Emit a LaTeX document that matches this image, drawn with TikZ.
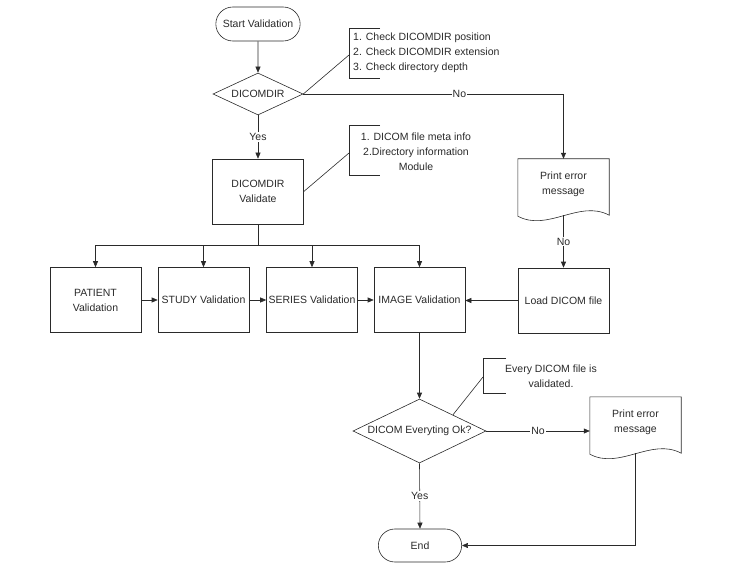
\documentclass[tikz,border=0pt]{standalone}
\usepackage{fontspec}
\setmainfont{Liberation Sans}
\usetikzlibrary{arrows.meta, positioning, shapes.geometric, shapes.misc}
\definecolor{Ink}{HTML}{2A2A2A}

\begin{document}
\begin{tikzpicture}[x=1pt, y=-1pt, >={Triangle[length=6pt, width=5pt]},
    font=\fontsize{10.5}{15}\selectfont, text=Ink,
    line/.style={draw=Ink, line width=0.6pt},
    box/.style={line, rectangle, minimum width=91pt, minimum height=65pt, inner sep=1pt, align=center},
    term/.style={line, rounded rectangle, minimum width=91pt, minimum height=34pt, align=center},
    decision/.style={line, diamond, inner sep=0pt, align=center},
    doc/.style={rectangle, minimum width=91pt, minimum height=50pt, inner sep=1pt, align=center},
    lbl/.style={fill=white, inner sep=1pt}]
  \useasboundingbox (0,0) rectangle (736,572);

  \node[term] (start) at (258,24) {Start Validation};
  \node[decision, minimum width=90pt, minimum height=42pt, aspect=2.14] (dir) at (258,94) {DICOMDIR};
  \node[box] (dirval) at (258,191.5) {DICOMDIR\\Validate};
  \node[box] (patient) at (95.5,300) {PATIENT\\Validation};
  \node[box] (study) at (203.5,300) {STUDY Validation};
  \node[box] (series) at (312,300) {SERIES Validation};
  \node[box] (image) at (419.5,300) {IMAGE Validation};
  \node[doc] (err1) at (563.5,184) {Print error\\message};
  \node[box] (load) at (563.5,300.5) {Load DICOM file};
  \node[decision, minimum width=133pt, minimum height=64pt, aspect=2.08] (ok) at (419.5,431) {DICOM Everyting Ok?};
  \node[doc] (err2) at (635.5,422) {Print error\\message};
  \node[term, minimum width=90pt, minimum height=33pt] (end) at (420,545.5) {End};

  % document outlines
  \draw[line] ([yshift=-7pt]err1.south west) -- (err1.north west) -- (err1.north east)
    -- ([yshift=-6pt]err1.south east) .. controls +(-30,-16) and +(30,16) .. ([yshift=-7pt]err1.south west);
  \draw[line] ([yshift=-7pt]err2.south west) -- (err2.north west) -- (err2.north east)
    -- ([yshift=-6pt]err2.south east) .. controls +(-30,-16) and +(30,16) .. ([yshift=-7pt]err2.south west);

  % annotations
  \draw[line] (380,28) -- (349,28) -- (349,78) -- (380,78);
  \coordinate (note1) at (349,55);
  \node[anchor=west, align=left, inner sep=0pt] (txt1) at (353,53)
    {1. Check DICOMDIR position\\2. Check DICOMDIR extension\\3. Check directory depth};
  \draw[line] (380,125) -- (349,125) -- (349,175) -- (380,175);
  \coordinate (note2) at (349,153);
  \node[align=center, inner sep=0pt] (txt2) at (416,151.5)
    {1. DICOM file meta info\\2.Directory information\\Module};
  \draw[line] (506,358) -- (483,358) -- (483,393) -- (506,393);
  \coordinate (note3) at (483,377);
  \node[align=center, inner sep=0pt] (txt3) at (551,376.5) {Every DICOM file is\\validated.};
  \draw[line] (dir.east) -- (note1);
  \draw[line] (dirval.east) -- (note2);
  \draw[line] (ok.north east) -- (note3);

  % flow
  \draw[line, ->] (start) -- (dir);
  \draw[line, ->] (dir.south) -- node[lbl] {Yes} (dirval.north);
  \draw[line, ->] (dir.east) -| node[lbl, pos=0.3] {No} (err1.north);
  \coordinate (bus) at (258,245);
  \draw[line] (dirval.south) -- (bus);
  \foreach \n in {patient, study, series, image}
    \draw[line, ->] (bus) -| (\n.north);
  \draw[line, ->] (patient) -- (study);
  \draw[line, ->] (study) -- (series);
  \draw[line, ->] (series) -- (image);
  \draw[line, ->] ([yshift=-6pt]err1.south) -- node[lbl, pos=0.5] {No} (load.north);
  \draw[line, ->] (load.west) -- (load.west -| image.east);
  \draw[line, ->] (image.south) -- (ok.north);
  \draw[line, ->] (ok.east) -- node[lbl] {No} (ok.east -| err2.west);
  \draw[line, ->] (ok.south) -- node[lbl] {Yes} (end.north);
  \draw[line, ->] ([yshift=-6pt]err2.south) |- (end.east);
\end{tikzpicture}
\end{document}
